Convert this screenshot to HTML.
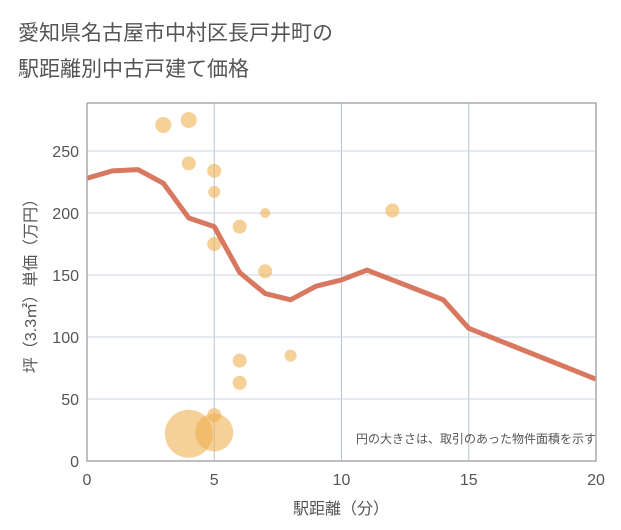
<!DOCTYPE html>
<html><head><meta charset="utf-8"><style>
body{margin:0;background:#fff;}
svg{display:block;font-family:"Liberation Sans","Noto Sans CJK JP",sans-serif;}
</style></head><body>
<svg id="c" width="621" height="530">
<rect x="0" y="0" width="621" height="530" fill="#fff"/>
<text x="18" y="40" font-size="21" fill="#555">愛知県名古屋市中村区長戸井町の</text>
<text x="18" y="76" font-size="21" fill="#555">駅距離別中古戸建て価格</text>
<g id="grid"></g><g id="marks"></g><g id="axes"></g>
<text x="596" y="443" font-size="12" fill="#555" text-anchor="end">円の大きさは、取引のあった物件面積を示す</text>
<text x="341" y="514" font-size="16" fill="#555" text-anchor="middle">駅距離（分）</text>
<text transform="translate(36,282) rotate(-90)" font-size="16" fill="#555" text-anchor="middle">坪（3.3㎡）単価（万円）</text>
</svg>
<script>
const lineX=[0,1,2,3,4,5,6,7,8,9,10,11,12,13,14,15,20];
const lineY=[228,234,235,224,196,189,152,135,130,141,146,154,146,138,130,107,66];
const ptX=[3,4,4,5,5,5,6,7,7,12,6,6,8,5,4,5];
const ptY=[271,275,240,234,217,175,189,200,153,202,81,63,85,37,22,23];
const ptR=[8,8,7,7,6,7,7,5,7,7,7,7,6,7,24,19];
const xTicks=[0,5,10,15,20];
const yTicks=[0,50,100,150,200,250];
const L=87,R=596,T=103,B=461;
const sx=v=>L+(v/20)*(R-L);
const sy=v=>B-v*1.24;
const NS="http://www.w3.org/2000/svg";
function mk(p,t,a){const e=document.createElementNS(NS,t);for(const k in a)e.setAttribute(k,a[k]);p.appendChild(e);return e;}
const g=document.getElementById('grid'),m=document.getElementById('marks'),ax=document.getElementById('axes');
xTicks.forEach(v=>{const l=mk(g,'line',{x1:sx(v),x2:sx(v),y1:T,y2:B,stroke:'#b8c4d0'});


const t=mk(ax,'text',{x:sx(v),y:B+24,'font-size':16,fill:'#555','text-anchor':'middle'});t.textContent=v;

});
yTicks.forEach(v=>{if(v>0){const l=mk(g,'line',{x1:L,x2:R,y1:sy(v),y2:sy(v),stroke:'#c8d6e2'});

}
const t=mk(ax,'text',{x:L-8,y:sy(v)+6,'font-size':16,fill:'#555','text-anchor':'end'});t.textContent=v;

});
const fr=mk(ax,'path',{d:`M${L},${T}V${B}H${R}V${T}H${L}`,fill:'none',stroke:'#aaa','stroke-width':1.5});


ptX.forEach((x,i)=>{const c=mk(m,'circle',{cx:sx(x),cy:sy(ptY[i]),r:ptR[i],fill:'rgba(238,176,82,0.6)'});

});
const p=mk(m,'polyline',{points:lineX.map((x,i)=>sx(x)+','+sy(lineY[i])).join(' '),fill:'none',stroke:'#d5694f','stroke-width':5,'stroke-linejoin':'round','stroke-opacity':0.9});


</script>
</body></html>
